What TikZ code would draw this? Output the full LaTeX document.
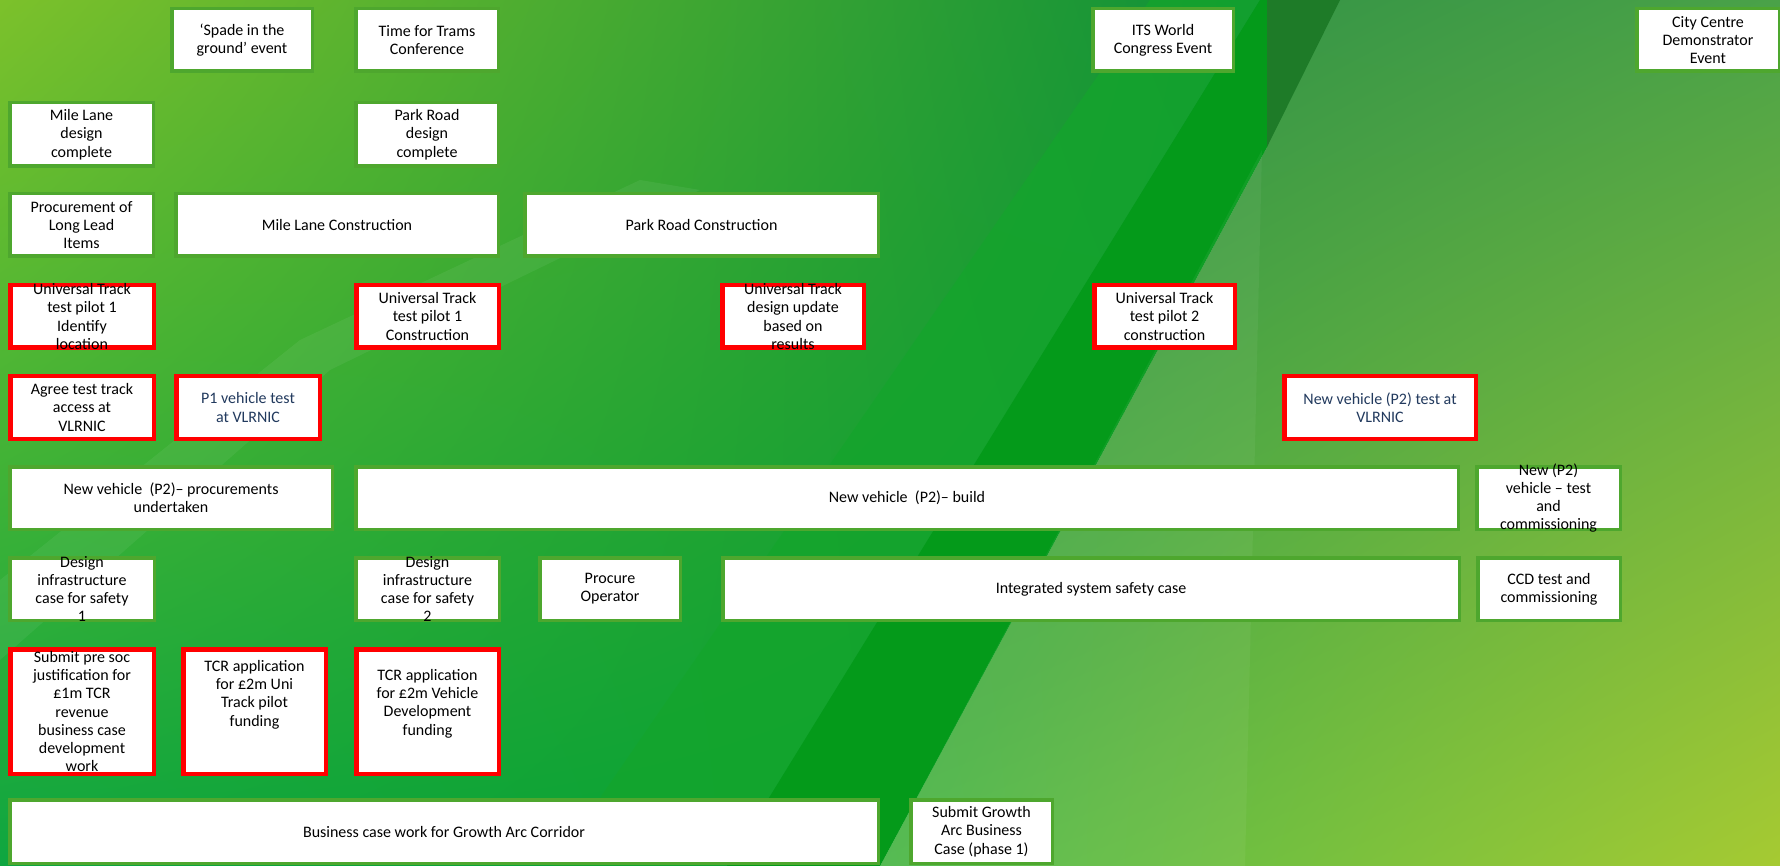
\documentclass[tikz,border=0pt]{standalone}
\usepackage{fontspec}
\setmainfont{Carlito}
\usetikzlibrary{shadings}

\definecolor{boxgreen}{HTML}{4EA72E}
\definecolor{boxred}{HTML}{FF0000}
\definecolor{textnavy}{HTML}{223A5E}
\newcommand{\taskfont}{\fontsize{16}{18.3}\selectfont}

\begin{document}
\begin{tikzpicture}[x=1pt, y=-1pt]
        % Define the styles for the boxes
        \tikzset{
            greenbox/.style={draw=boxgreen, line width=3.5pt, fill=white, inner sep=0pt},
            redbox/.style={draw=boxred, line width=4.5pt, fill=white, inner sep=0pt},
            lbl/.style={align=center, font=\taskfont, text=black},
            navylbl/.style={lbl, text=textnavy}
        }

        \useasboundingbox (0,0) rectangle (1780,866);

        % Background
        \begin{scope}
            \clip (0,0) rectangle (1780,866);
            \shade[upper left={rgb,255:red,124;green,193;blue,43}, upper right={rgb,255:red,12;green,144;blue,56},
                   lower left={rgb,255:red,14;green,166;blue,64}, lower right={rgb,255:red,6;green,160;blue,42}]
                (0,0) -- (1267,0) -- (1267,147) -- (880,866) -- (0,866) -- cycle;
            \shade[upper left={rgb,255:red,40;green,140;blue,68}, upper right={rgb,255:red,74;green,162;blue,72},
                   lower left={rgb,255:red,76;green,184;blue,74}, lower right={rgb,255:red,166;green,202;blue,50}]
                (1267,0) -- (1780,0) -- (1780,866) -- (880,866) -- (1267,147) -- cycle;
            \fill[white, opacity=0.06] (0,580) -- (0,660) -- (330,370) -- (700,190) -- (640,180) -- (300,340) -- cycle;
            \fill[fill={rgb,255:red,20;green,165;blue,44}, opacity=0.75] (1150,0) -- (1260,0) -- (727,866) -- (553,866) -- cycle;
            \fill[fill={rgb,255:red,4;green,154;blue,26}] (1260,0) -- (1267,0) -- (1267,147) -- (880,866) -- (727,866) -- cycle;
            \fill[fill={rgb,255:red,30;green,123;blue,40}] (1267,0) -- (1340,0) -- (1267,147) -- cycle;
            \fill[white, opacity=0.05] (1262,150) -- (1245,866) -- (880,866) -- cycle;
        \end{scope}

        % Events
        \node[greenbox, minimum width=140.5, minimum height=62.5, label={[lbl]center:{‘Spade in the\\ground’ event}}] (spade) at (242,40) {};
        \node[greenbox, minimum width=142.5, minimum height=62.5, label={[lbl]center:{Time for Trams\\Conference}}] (trams) at (427,40) {};
        \node[greenbox, minimum width=140.5, minimum height=62.5, label={[lbl]center:{ITS World\\Congress Event}}] (its) at (1163,40) {};
        \node[greenbox, minimum width=142.5, minimum height=62.5, label={[lbl]center:{City Centre\\Demonstrator\\Event}}] (city) at (1708,40) {};

        % Design and construction
        \node[greenbox, minimum width=143.5, minimum height=63.5, label={[lbl]center:{Mile Lane\\design\\complete}}] (mld) at (81.5,134.5) {};
        \node[greenbox, minimum width=142.5, minimum height=63.5, label={[lbl]center:{Park Road\\design\\complete}}] (prd) at (427,134.5) {};
        \node[greenbox, minimum width=143.5, minimum height=62.5, label={[lbl]center:{Procurement of\\Long Lead\\Items}}] (proc) at (81.5,225) {};
        \node[greenbox, minimum width=322.5, minimum height=62.5, label={[lbl]center:{Mile Lane Construction}}] (mlc) at (337,225) {};
        \node[greenbox, minimum width=353.5, minimum height=62.5, label={[lbl]center:{Park Road Construction}}] (prc) at (701.5,225) {};

        % Universal Track
        \node[redbox, minimum width=143.5, minimum height=62.5, label={[lbl]center:{Universal Track\\test pilot 1\\Identify\\location}}] (utid) at (82,316.5) {};
        \node[redbox, minimum width=142.5, minimum height=62.5, label={[lbl]center:{Universal Track\\test pilot 1\\Construction}}] (utcon) at (427.5,316.5) {};
        \node[redbox, minimum width=141.5, minimum height=62.5, label={[lbl]center:{Universal Track\\design update\\based on\\results}}] (utdes) at (793,316.5) {};
        \node[redbox, minimum width=140.5, minimum height=62.5, label={[lbl]center:{Universal Track\\test pilot 2\\construction}}] (uttwo) at (1164.5,316.5) {};

        % Vehicle tests
        \node[redbox, minimum width=143.5, minimum height=62.5, label={[lbl]center:{Agree test track\\access at\\VLRNIC}}] (agree) at (82,407.5) {};
        \node[redbox, minimum width=143.5, minimum height=62.5, label={[navylbl]center:{P1 vehicle test\\at VLRNIC}}] (pone) at (248,407.5) {};
        \node[redbox, minimum width=191.5, minimum height=62.5, label={[navylbl]center:{New vehicle (P2) test at\\VLRNIC}}] (ptwo) at (1380,407.5) {};

        % New vehicle
        \node[greenbox, minimum width=322.5, minimum height=62.5, label={[lbl]center:{New vehicle\ \ (P2)– procurements\\undertaken}}] (nvproc) at (171,498) {};
        \node[greenbox, minimum width=1102.5, minimum height=62.5, label={[lbl]center:{New vehicle\ \ (P2)– build}}] (nvbuild) at (907,498) {};
        \node[greenbox, minimum width=143.5, minimum height=62.5, label={[lbl]center:{New (P2)\\vehicle – test\\and\\commissioning}}] (nvtest) at (1548.5,498) {};

        % Safety case
        \node[greenbox, minimum width=144.5, minimum height=62.5, label={[lbl]center:{Design\\infrastructure\\case for safety\\1}}] (dsone) at (82,589) {};
        \node[greenbox, minimum width=143.5, minimum height=62.5, label={[lbl]center:{Design\\infrastructure\\case for safety\\2}}] (dstwo) at (427.5,589) {};
        \node[greenbox, minimum width=140.5, minimum height=62.5, label={[lbl]center:{Procure\\Operator}}] (procop) at (610,589) {};
        \node[greenbox, minimum width=736.5, minimum height=62.5, label={[lbl]center:{Integrated system safety case}}] (iss) at (1091,589) {};
        \node[greenbox, minimum width=142.5, minimum height=62.5, label={[lbl]center:{CCD test and\\commissioning}}] (ccd) at (1549,589) {};

        % Funding
        \node[redbox, minimum width=143.5, minimum height=124.5, label={[lbl]center:{Submit pre soc\\justification for\\£1m TCR\\revenue\\business case\\development\\work}}] (presoc) at (82,711.5) {};
        \node[redbox, minimum width=142.5, minimum height=124.5, label={[lbl, yshift=17]center:{TCR application\\for £2m Uni\\Track pilot\\funding}}] (tcruni) at (254.5,711.5) {};
        \node[redbox, minimum width=142.5, minimum height=124.5, label={[lbl, yshift=8]center:{TCR application\\for £2m Vehicle\\Development\\funding}}] (tcrveh) at (427.5,711.5) {};

        % Business case
        \node[greenbox, minimum width=868.5, minimum height=63.5, label={[lbl]center:{Business case work for Growth Arc Corridor}}] (bcw) at (444,831.5) {};
        \node[greenbox, minimum width=141.5, minimum height=63.5, label={[lbl]center:{Submit Growth\\Arc Business\\Case (phase 1)}}] (sgab) at (981.5,831.5) {};
    \end{tikzpicture}
\end{document}
